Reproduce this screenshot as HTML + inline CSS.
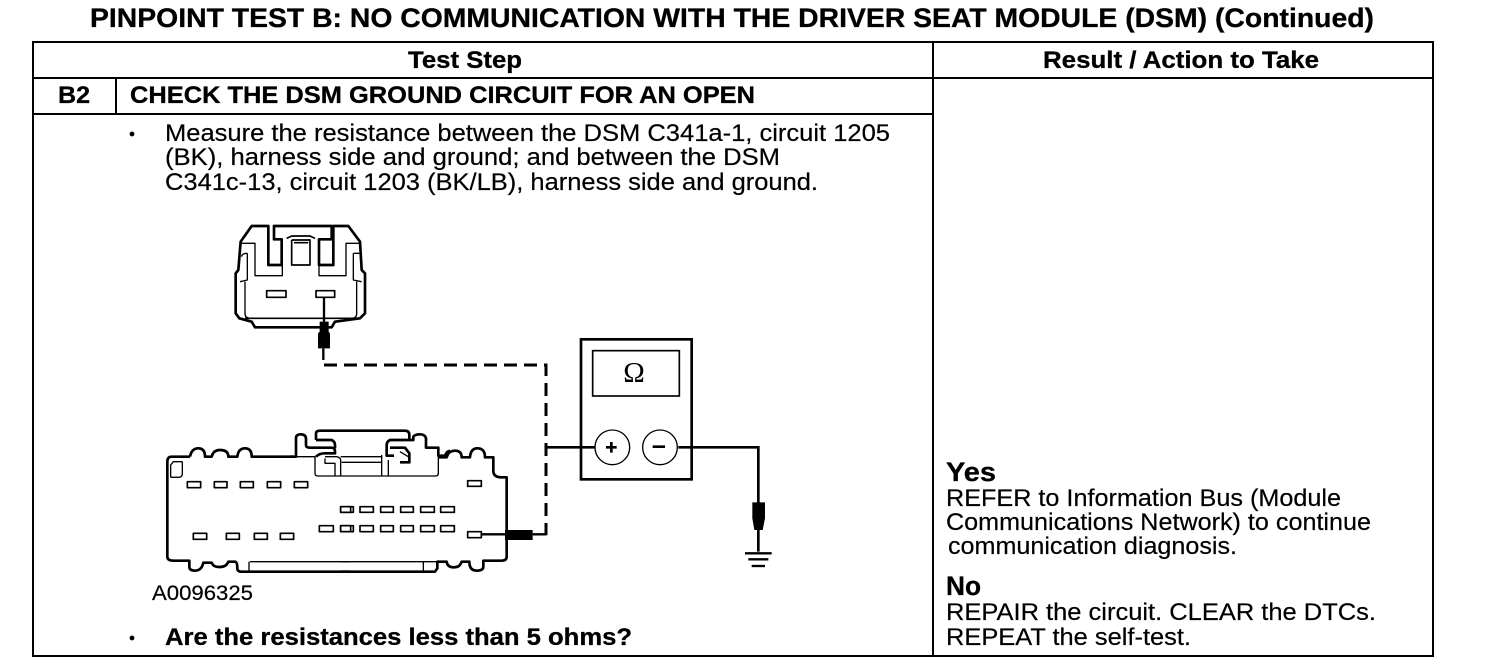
<!DOCTYPE html>
<html><head><meta charset="utf-8"><style>
html,body{margin:0;padding:0;background:#fff}
svg{display:block}
text{font-family:"Liberation Sans",sans-serif;fill:#000;stroke:#000;stroke-width:.2}
.b{font-weight:bold;stroke-width:.3}
</style></head><body>
<svg width="1504" height="666" viewBox="0 0 1504 666" xmlns="http://www.w3.org/2000/svg">
<g font-size="25">
<text class="b" x="90" y="27" font-size="27" textLength="1284" lengthAdjust="spacingAndGlyphs">PINPOINT TEST B: NO COMMUNICATION WITH THE DRIVER SEAT MODULE (DSM) (Continued)</text>
<text class="b" x="408" y="68" font-size="24" textLength="114" lengthAdjust="spacingAndGlyphs">Test Step</text>
<text class="b" x="1043" y="68" font-size="24" textLength="276" lengthAdjust="spacingAndGlyphs">Result / Action to Take</text>
<text class="b" x="58" y="103" font-size="24" textLength="32" lengthAdjust="spacingAndGlyphs">B2</text>
<text class="b" x="130" y="103" font-size="24" textLength="625" lengthAdjust="spacingAndGlyphs">CHECK THE DSM GROUND CIRCUIT FOR AN OPEN</text>
<text x="165" y="141" font-size="24" textLength="725" lengthAdjust="spacingAndGlyphs">Measure the resistance between the DSM C341a-1, circuit 1205</text>
<text x="165" y="165" font-size="24" textLength="615" lengthAdjust="spacingAndGlyphs">(BK), harness side and ground; and between the DSM</text>
<text x="165" y="190" font-size="24" textLength="653" lengthAdjust="spacingAndGlyphs">C341c-13, circuit 1203 (BK/LB), harness side and ground.</text>
<text x="152" y="600" font-size="21" textLength="101" lengthAdjust="spacingAndGlyphs">A0096325</text>
<text class="b" x="165" y="645" font-size="24" textLength="467" lengthAdjust="spacingAndGlyphs">Are the resistances less than 5 ohms?</text>
<text class="b" x="946" y="481" font-size="27" textLength="50" lengthAdjust="spacingAndGlyphs">Yes</text>
<text x="946" y="506" font-size="24" textLength="395" lengthAdjust="spacingAndGlyphs">REFER to Information Bus (Module</text>
<text x="946" y="530" font-size="24" textLength="425" lengthAdjust="spacingAndGlyphs">Communications Network) to continue</text>
<text x="948" y="554" font-size="24" textLength="289" lengthAdjust="spacingAndGlyphs">communication diagnosis.</text>
<text class="b" x="946" y="595" font-size="27" textLength="35" lengthAdjust="spacingAndGlyphs">No</text>
<text x="946" y="620" font-size="24" textLength="430" lengthAdjust="spacingAndGlyphs">REPAIR the circuit. CLEAR the DTCs.</text>
<text x="946" y="645" font-size="24" textLength="245" lengthAdjust="spacingAndGlyphs">REPEAT the self-test.</text>
</g>
<circle cx="132" cy="134" r="2.4" fill="#000"/>
<circle cx="132" cy="638" r="2.4" fill="#000"/>

<!-- table -->
<g fill="none" stroke="#000" stroke-width="2" shape-rendering="crispEdges">
<rect x="33" y="42" width="1400" height="614"/>
<path d="M33 78H1433M33 114H933M933 42V656M116 78V114"/>
</g>

<!-- top connector -->
<g transform="translate(220,210) scale(.33333)" fill="none" stroke="#000" stroke-linejoin="round">
<path stroke-width="8" d="M47 190V310L58 325L95 335L105 352H335L345 335L420 325L435 310V190L425 180L420 95L385 48H340V165H297V88H335V48H162V88H185V165H145V48H95L62 95L55 180Z"/>
<path stroke-width="4" d="M62 100H105V197H187V165M420 100H378V197H297V165M82 130Q65 130 65 140M82 130V210L60 215M400 130H418M400 130V210L425 215M75 215V310Q75 325 92 325H395Q410 325 410 310V215"/>
<path stroke-width="5" d="M215 90V165H270V90H215M200 85L215 78H270L285 85M222 98H265"/>
<path stroke-width="5" d="M75 325H410"/>
<rect x="140" y="242" width="58" height="20" stroke-width="5"/>
<rect x="288" y="242" width="56" height="20" stroke-width="5"/>
<path stroke-width="7" d="M312 262V335M310 415V450"/>
<path fill="#000" stroke="none" d="M299 335H326V365L330 370V415H294V370L299 365Z"/>
</g>
<path d="M324 365H546V535" fill="none" stroke="#000" stroke-width="3" stroke-dasharray="13 7"/>

<!-- bottom connector left half -->
<g transform="translate(150,420) scale(.33333)" fill="none" stroke="#000" stroke-linejoin="round">
<path stroke-width="8" d="M120 110H65Q52 110 52 125V410Q52 422 70 422H118V440Q118 452 135 452Q155 452 160 428H185Q190 442 210 441Q230 440 235 425H255Q262 425 262 445Q262 455 275 455H601"/>
<path stroke-width="8" d="M120 110Q125 85 145 85Q165 85 165 110H185Q190 90 210 90Q235 90 235 110H262Q265 85 285 85Q305 85 305 110H430"/>
<path stroke-width="4" d="M97 125V160Q97 172 85 172H62M97 125H70L62 135V172M300 425H600M297 425V455"/>
<g stroke-width="5">
<rect x="112" y="185" width="40" height="18"/><rect x="193" y="185" width="38" height="18"/><rect x="271" y="185" width="39" height="18"/><rect x="352" y="185" width="40" height="18"/><rect x="433" y="185" width="40" height="18"/>
<rect x="130" y="340" width="40" height="18"/><rect x="229" y="340" width="39" height="18"/><rect x="313" y="340" width="39" height="18"/><rect x="391" y="340" width="40" height="18"/>
<rect x="572" y="260" width="30" height="17"/><rect x="508" y="317" width="42" height="18"/><rect x="572" y="317" width="30" height="18"/>
</g>
</g>

<!-- centre latch -->
<g transform="translate(290,425) scale(.33333)" fill="none" stroke="#000" stroke-linejoin="round">
<path stroke-width="8" d="M0 95H18V40Q18 28 32 28Q48 28 48 42V60Q48 68 60 68H125Q135 68 135 80V85H105Q88 85 78 95M78 45H125Q135 50 135 60V70M78 45V25Q78 17 90 17H345Q358 17 358 30V45H300Q290 50 290 60V92H312M300 68H345L358 85V112H330M358 45H370V35Q375 28 390 28Q405 28 408 40V68H445V92H465Q470 78 480 78"/>
<path stroke-width="4" d="M18 95H75V145Q75 153 85 153H435Q445 153 445 145V90M105 95H140Q152 98 152 105V153M152 95H275M155 112H275M275 90V153M295 105V153M105 100V115H135V153M330 80L355 95"/>
</g>

<!-- bottom connector right half -->
<g transform="translate(340,420) scale(.33333)" fill="none" stroke="#000" stroke-linejoin="round">
<path stroke-width="8" d="M295 112H320Q325 92 345 92Q365 92 365 112H390Q392 85 412 85Q435 85 435 112H460V155Q462 172 485 172H500V410Q500 422 485 422H430V440Q430 452 410 452Q388 452 388 425H365Q360 442 342 442Q322 442 320 425H292V445L285 455H0"/>
<path stroke-width="4" d="M0 425H290M250 425V455"/>
<g stroke-width="5">
<rect x="2" y="260" width="38" height="17"/><rect x="60" y="260" width="40" height="17"/><rect x="122" y="260" width="38" height="17"/><rect x="182" y="260" width="38" height="17"/><rect x="242" y="260" width="41" height="17"/><rect x="302" y="260" width="41" height="17"/>
<rect x="2" y="317" width="38" height="18"/><rect x="60" y="317" width="40" height="18"/><rect x="122" y="317" width="38" height="18"/><rect x="182" y="317" width="38" height="18"/><rect x="242" y="317" width="41" height="18"/><rect x="302" y="317" width="41" height="18"/>
<rect x="383" y="182" width="41" height="17"/><rect x="383" y="335" width="41" height="18"/>
</g>
<path stroke-width="7" d="M425 343H495M578 343H620"/>
<path fill="#000" stroke="none" d="M495 330H578V360H495Z"/>
</g>

<!-- meter -->
<g transform="translate(570,330) scale(.33333)" fill="none" stroke="#000">
<rect x="33" y="28" width="332" height="420" stroke-width="8"/>
<rect x="68" y="62" width="260" height="136" stroke-width="5"/>
<path stroke-width="8" d="M-72 352H75M325 352H565V665"/>
<circle cx="127" cy="352" r="52" fill="#fff" stroke-width="4"/>
<circle cx="270" cy="352" r="52" fill="#fff" stroke-width="4"/>
<path stroke-width="8" d="M108 352H140M124 336V368M248 350H285"/>
<path fill="#000" stroke="none" d="M547 517H585V565L578 600H553L547 565Z"/>
<path stroke-width="7" d="M525 670H605"/>
<path stroke-width="7" d="M535 688H595"/>
<path stroke-width="7" d="M545 708H585"/>
</g>
<text x="634" y="382" font-size="29" text-anchor="middle" style="font-family:'Liberation Serif',serif;stroke-width:0">Ω</text>
</svg>
</body></html>
